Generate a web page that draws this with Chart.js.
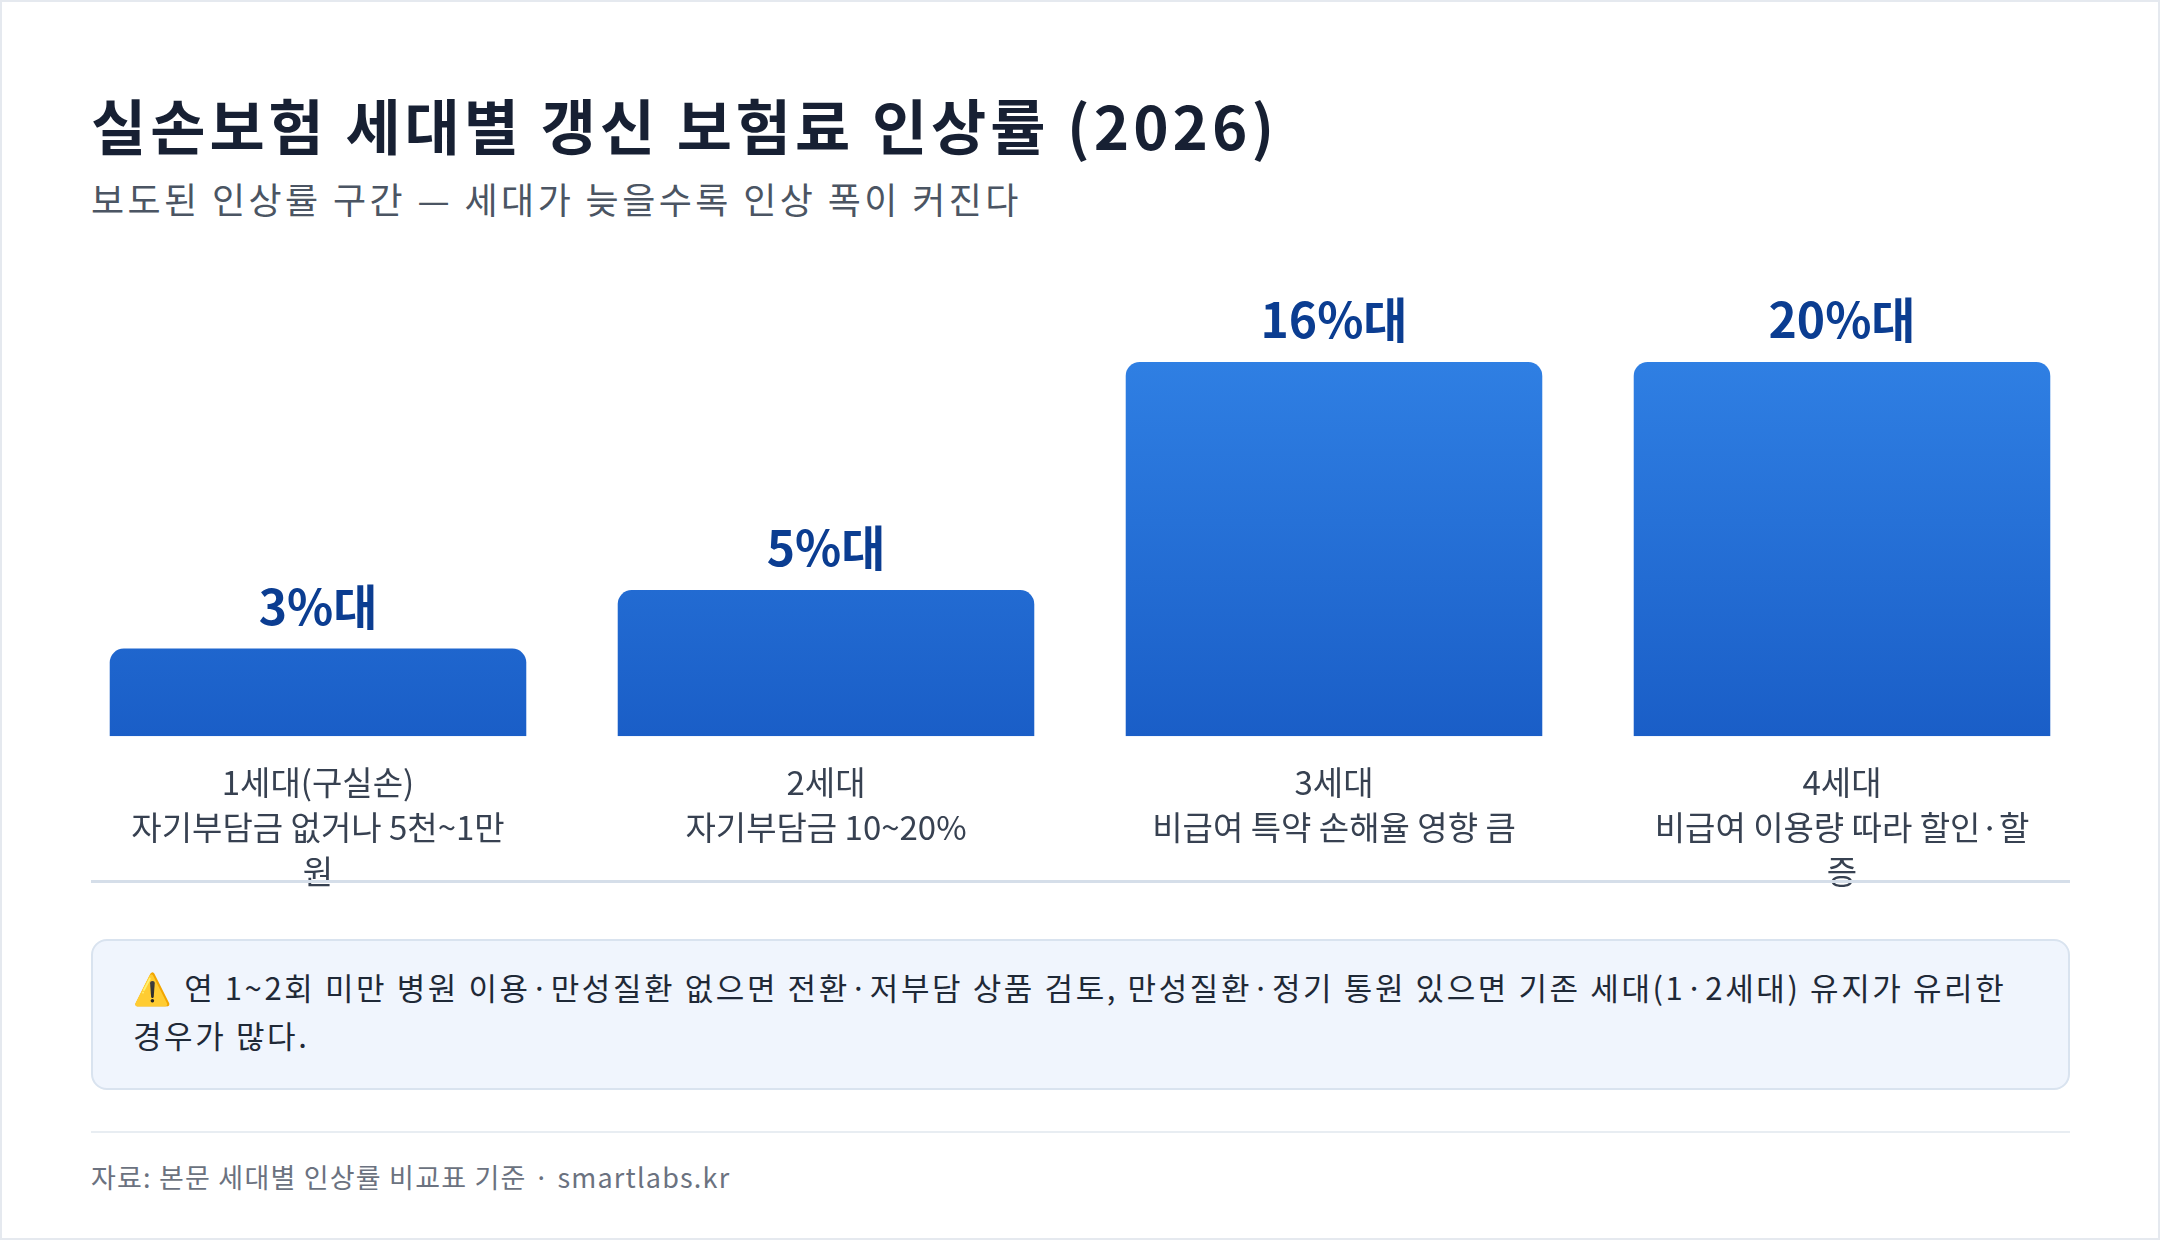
<!DOCTYPE html>
<html><head><meta charset="utf-8">
<script src="https://cdn.jsdelivr.net/npm/chart.js@4/dist/chart.umd.min.js"></script>
<style>
body{margin:0;width:2160px;height:1240px;background:#fff;font-family:"Noto Sans CJK KR","Noto Sans",sans-serif;position:relative;overflow:hidden}
.frame{position:absolute;left:0;top:0;width:2156px;height:1236px;border:2px solid #e5e9ef}
h1{position:absolute;left:91px;top:80px;margin:0;font-size:60px;font-weight:700;color:#172033;letter-spacing:4px}
.sub{position:absolute;left:91px;top:172px;font-size:36px;color:#4b5563;letter-spacing:3.4px}
#wrap{position:absolute;left:64px;top:280px;width:2032px;height:630px}
.line1{position:absolute;left:91px;width:1979px;top:880px;height:3px;background:#d5dee9}
.note{position:absolute;left:91px;top:939px;width:1979px;height:151px;box-sizing:border-box;background:#f0f5fd;border:2px solid #d9e3ef;border-radius:16px;padding:22px 40px;font-size:31px;line-height:48px;color:#1f2937;letter-spacing:2.6px}
.line2{position:absolute;left:91px;width:1979px;top:1131px;height:2px;background:#e8edf2}
.foot{position:absolute;left:91px;top:1157px;font-size:27px;color:#6b7280;letter-spacing:1.2px}
</style></head><body>
<div class="frame"></div>
<h1>실손보험 세대별 갱신 보험료 인상률 (2026)</h1>
<div class="sub">보도된 인상률 구간 — 세대가 늦을수록 인상 폭이 커진다</div>
<div id="wrap"><canvas id="c"></canvas></div>
<div class="line1"></div>
<div class="note">⚠️ 연 1~2회 미만 병원 이용·만성질환 없으면 전환·저부담 상품 검토, 만성질환·정기 통원 있으면 기존 세대(1·2세대) 유지가 유리한 경우가 많다.</div>
<div class="line2"></div>
<div class="foot">자료: 본문 세대별 인상률 비교표 기준 · smartlabs.kr</div>
<script>
const categories=[['1세대(구실손)','자기부담금 없거나 5천~1만','원'],['2세대','자기부담금 10~20%'],['3세대','비급여 특약 손해율 영향 큼'],['4세대','비급여 이용량 따라 할인·할','증']];
const barHeights=[3,5,12.8,12.8];
const valueLabels=['3%대','5%대','16%대','20%대'];
const labelPlugin={id:'vl',afterDatasetsDraw(ch){const c=ch.ctx;const m=ch.getDatasetMeta(0);c.save();c.fillStyle='#0b3d91';c.font='bold 48px "Noto Sans CJK KR"';c.textAlign='center';c.textBaseline='bottom';m.data.forEach((b,i)=>c.fillText(valueLabels[i],b.x,b.y-18));c.restore();}};
new Chart(document.getElementById('c'),{type:'bar',
data:{labels:categories,datasets:[{data:barHeights,borderRadius:{topLeft:14,topRight:14},borderSkipped:false,
backgroundColor:(ctx)=>{const a=ctx.chart.chartArea;if(!a)return '#2a6fd8';const g=ctx.chart.ctx.createLinearGradient(0,a.top,0,a.bottom);g.addColorStop(0,'#2f7fe3');g.addColorStop(1,'#1a5ec7');return g;},
categoryPercentage:0.82,barPercentage:1}]},
options:{responsive:true,maintainAspectRatio:false,animation:false,layout:{padding:{top:82}},
plugins:{legend:{display:false},tooltip:{enabled:false}},
scales:{y:{display:false,min:0,max:12.8},x:{grid:{display:false},border:{display:false},ticks:{color:'#374151',font:{size:33,family:'"Noto Sans CJK KR"',lineHeight:1.35},padding:16,maxRotation:0}}}},
plugins:[labelPlugin]});
</script></body></html>
